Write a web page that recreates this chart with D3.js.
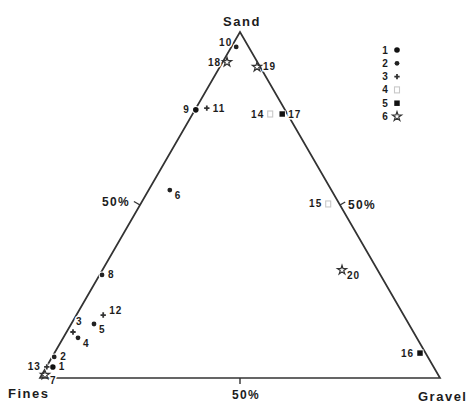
<!DOCTYPE html>
<html>
<head>
<meta charset="utf-8">
<script src="https://cdn.jsdelivr.net/npm/d3@7"></script>
<style>
  body { margin: 0; background: #fff; }
  text { font-family: "Liberation Sans", Arial, sans-serif; font-weight: bold; fill: #1c1c1c; }
</style>
</head>
<body>
<div id="wrapper"></div>
<script>
// sample numbers and their composition in percent (sand + gravel + fines = 100)
const samples = ["1", "2", "3", "4", "5", "6", "7", "8", "9", "10",
                 "11", "12", "13", "14", "15", "16", "17", "18", "19", "20"];
const sand   = [3.2, 6.1, 13.3, 11.6, 15.6, 54.3, 0.9, 29.8, 77.5, 95.7,
                78.0, 18.2, 3.2, 76.3, 50.3, 7.2, 76.3, 91.3, 89.9, 31.2];
const gravel = [1.6, 0.5, 1.6, 3.7, 5.7, 5.3, 0.8, 0.6, 0.2, 1.2,
                2.7, 6.7, 0.1, 19.4, 46.9, 91.4, 22.4, 1.1, 9.3, 59.9];
const fines  = [95.2, 93.4, 85.1, 84.7, 78.7, 40.4, 98.3, 69.6, 22.3, 3.1,
                19.3, 75.1, 96.7, 4.3, 2.8, 1.4, 1.3, 7.6, 0.8, 8.9];
// sediment group (legend 1..6) of each sample
const sampleGroup = [1, 2, 3, 2, 2, 2, 6, 2, 1, 2, 3, 3, 3, 4, 4, 5, 5, 6, 6, 6];
// where the number sits next to its mark
const labelSide = ["r", "r", "t", "br", "br", "br", "br", "r", "l", "tl",
                   "r", "tr", "l", "l", "l", "l", "r", "l", "r", "br"];

const legendGroups = ["1", "2", "3", "4", "5", "6"];
const tickValues = [50];
const tickLabel = d => d + "%";

const dimensions = {
  width: 470,
  height: 405,
  margin: { top: 32, right: 30, bottom: 27, left: 40 },
};
dimensions.boundedWidth = dimensions.width - dimensions.margin.left - dimensions.margin.right;
dimensions.boundedHeight = dimensions.height - dimensions.margin.top - dimensions.margin.bottom;

const wrapper = d3.select('#wrapper')
  .append('svg')
  .attr('width', dimensions.width)
  .attr('height', dimensions.height);

wrapper.append('rect')
  .attr('width', dimensions.width)
  .attr('height', dimensions.height)
  .attr('fill', '#fff');

const bounds = wrapper.append('g')
  .attr('transform', `translate(${dimensions.margin.left},${dimensions.margin.top})`);

// gravel runs along the base, sand goes up to the apex
const xScale = d3.scaleLinear().domain([0, 100]).range([0, dimensions.boundedWidth]);
const yScale = d3.scaleLinear().domain([0, 100]).range([dimensions.boundedHeight, 0]);
const project = (s, g) => [xScale(g + s / 2), yScale(s)];

const lineColor = '#333';

// triangle
const corners = [project(0, 0), project(0, 100), project(100, 0)];
bounds.append('path')
  .attr('d', d3.line()(corners) + 'Z')
  .attr('fill', 'none')
  .attr('stroke', lineColor)
  .attr('stroke-width', 1.7);

// 50% ticks on each side
const ticks = bounds.append('g');
tickValues.forEach(v => {
  // left side (sand / fines)
  const [lx, ly] = project(v, 0);
  ticks.append('line')
    .attr('x1', lx).attr('y1', ly)
    .attr('x2', lx - 7 * 0.866).attr('y2', ly - 7 * 0.5)
    .attr('stroke', lineColor).attr('stroke-width', 1.4);
  ticks.append('text')
    .attr('x', lx - 10).attr('y', ly + 1)
    .attr('text-anchor', 'end')
    .attr('font-size', 12).attr('letter-spacing', 1.3)
    .text(tickLabel(v));

  // right side (sand / gravel)
  const [rx, ry] = project(v, 100 - v);
  ticks.append('line')
    .attr('x1', rx).attr('y1', ry)
    .attr('x2', rx + 6 * 0.866).attr('y2', ry - 6 * 0.5)
    .attr('stroke', lineColor).attr('stroke-width', 1.4);
  ticks.append('text')
    .attr('x', rx + 8).attr('y', ry + 4)
    .attr('font-size', 12).attr('letter-spacing', 1.3)
    .text(tickLabel(v));

  // base (gravel / fines)
  const [bx, by] = project(0, v);
  ticks.append('line')
    .attr('x1', bx).attr('y1', by)
    .attr('x2', bx).attr('y2', by + 6)
    .attr('stroke', lineColor).attr('stroke-width', 1.4);
  ticks.append('text')
    .attr('x', bx + 6).attr('y', by + 21)
    .attr('text-anchor', 'middle')
    .attr('font-size', 12).attr('letter-spacing', 1.3)
    .text(tickLabel(v));
});

// corner names
const [sx, sy] = project(100, 0);
const [fx, fy] = project(0, 0);
const [gx, gy] = project(0, 100);
const cornerText = bounds.append('g')
  .attr('font-size', 13)
  .attr('letter-spacing', 1.5);
cornerText.append('text').attr('x', sx + 2).attr('y', sy - 6).attr('text-anchor', 'middle').text('Sand');
cornerText.append('text').attr('x', fx - 32).attr('y', fy + 20).text('Fines');
cornerText.append('text').attr('x', gx - 22).attr('y', gy + 23).text('Gravel');

// one mark per group
function drawMark(sel, group) {
  if (group === 1) {
    sel.append('circle').attr('r', 2.8).attr('fill', '#111')
      .attr('stroke', '#fff').attr('stroke-width', 2).attr('paint-order', 'stroke');
  } else if (group === 2) {
    sel.append('circle').attr('r', 2.4).attr('fill', '#222')
      .attr('stroke', '#fff').attr('stroke-width', 2).attr('paint-order', 'stroke');
  } else if (group === 3) {
    sel.append('path').attr('d', d3.symbol(d3.symbolCross, 16)())
      .attr('fill', '#333').attr('stroke', '#fff').attr('stroke-width', 1.5).attr('paint-order', 'stroke');
  } else if (group === 4) {
    // the faint open mark that prints like "||"
    sel.append('rect').attr('x', -2.5).attr('y', -3).attr('width', 5).attr('height', 6)
      .attr('fill', '#fff').attr('stroke', '#c8c8c8').attr('stroke-width', 1.1);
  } else if (group === 5) {
    sel.append('path').attr('d', d3.symbol(d3.symbolSquare, 30)())
      .attr('fill', '#111').attr('stroke', '#fff').attr('stroke-width', 1.5).attr('paint-order', 'stroke');
  } else {
    sel.append('path').attr('d', d3.symbol(d3.symbolStar, 26)())
      .attr('fill', '#fff').attr('stroke', '#333').attr('stroke-width', 1.2);
  }
}

const sideOffset = {
  r:  { dx: 6,  dy: 3.5, anchor: 'start' },
  l:  { dx: -6, dy: 3.5, anchor: 'end' },
  t:  { dx: 3,  dy: -7,  anchor: 'start' },
  tr: { dx: 6,  dy: -1,  anchor: 'start' },
  tl: { dx: -4, dy: -1,  anchor: 'end' },
  br: { dx: 5,  dy: 9,   anchor: 'start' },
};

const points = bounds.append('g');
samples.forEach((name, i) => {
  const [px, py] = project(sand[i], gravel[i]);
  const g = points.append('g').attr('transform', `translate(${px},${py})`);
  const o = sideOffset[labelSide[i]];
  g.append('text')
    .attr('x', o.dx).attr('y', o.dy)
    .attr('text-anchor', o.anchor)
    .attr('font-size', 10)
    .attr('letter-spacing', 1)
    .attr('stroke', '#fff').attr('stroke-width', 3).attr('paint-order', 'stroke')
    .text(name);
  drawMark(g, sampleGroup[i]);
});

// legend, top right
const legend = wrapper.append('g').attr('transform', 'translate(385,50)');
legendGroups.forEach((name, i) => {
  const row = legend.append('g').attr('transform', `translate(0,${i * 13.3})`);
  row.append('text')
    .attr('x', 0).attr('y', 3.5)
    .attr('text-anchor', 'middle')
    .attr('font-size', 10)
    .text(name);
  const m = row.append('g').attr('transform', 'translate(12,0)');
  drawMark(m, +name);
});
</script>
</body>
</html>
